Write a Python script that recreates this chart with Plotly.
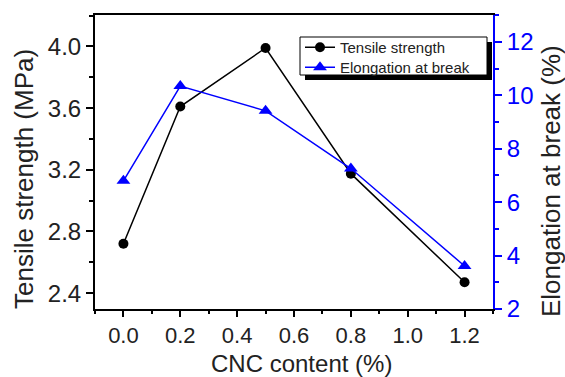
import plotly.graph_objects as go

# CNC loading (%) and the two measured properties
cnc_content = [0.0, 0.2, 0.5, 0.8, 1.2]
tensile_strength = [2.72, 3.61, 3.99, 3.175, 2.47]      # MPa
elongation_at_break = [6.80, 10.35, 9.42, 7.26, 3.61]   # %

FONT = "Liberation Sans, Arial, sans-serif"
BLUE = "#0000ff"
TEXT = "#222222"

W, H = 565, 377
ML, MR, MT, MB = 95, 72, 15, 68


def fx(px):
    """pixel column -> paper x"""
    return (px - ML) / (W - ML - MR)


def fy(py):
    """pixel row -> paper y"""
    return (H - MB - py) / (H - MT - MB)


fig = go.Figure()

fig.add_trace(go.Scatter(
    x=cnc_content, y=tensile_strength, name="Tensile strength",
    mode="lines+markers",
    line=dict(color="black", width=1.5),
    marker=dict(symbol="circle", size=10, color="black"),
    yaxis="y", legend="legend",
))
fig.add_trace(go.Scatter(
    x=cnc_content, y=elongation_at_break, name="Elongation at break",
    mode="lines+markers",
    line=dict(color=BLUE, width=1.5),
    marker=dict(symbol="triangle-up", size=12, color=BLUE),
    yaxis="y2", legend="legend2",
))

# legend frame with a drop shadow
fig.add_shape(type="rect", xref="paper", yref="paper",
              x0=fx(305), x1=fx(492), y0=fy(80), y1=fy(42),
              fillcolor="black", line=dict(width=0), layer="above")
fig.add_shape(type="rect", xref="paper", yref="paper",
              x0=fx(300), x1=fx(487), y0=fy(75), y1=fy(37),
              fillcolor="white", line=dict(color="black", width=1), layer="above")

# axis titles
fig.add_annotation(text="CNC content (%)", xref="paper", yref="paper",
                   x=fx(301), y=fy(363), xanchor="center", yanchor="middle",
                   showarrow=False, borderpad=0,
                   font=dict(size=24, family=FONT, color=TEXT))
fig.add_annotation(text="Tensile strength (MPa)", xref="paper", yref="paper",
                   x=fx(24), y=fy(179), xanchor="center", yanchor="middle",
                   textangle=-90, showarrow=False,
                   font=dict(size=26, family=FONT, color=TEXT))
fig.add_annotation(text="Elongation at break (%)", xref="paper", yref="paper",
                   x=fx(551), y=fy(181), xanchor="center", yanchor="middle",
                   textangle=-90, showarrow=False,
                   font=dict(size=26, family=FONT, color=TEXT))

legend_style = dict(
    xanchor="left", yanchor="top",
    bgcolor="rgba(0,0,0,0)", borderwidth=0,
    font=dict(size=15, family=FONT, color=TEXT),
    itemwidth=30,
)

fig.update_layout(
    width=W, height=H,
    margin=dict(l=ML, r=MR, t=MT, b=MB),
    paper_bgcolor="white", plot_bgcolor="white",
    font=dict(family=FONT, color=TEXT),
    showlegend=True,
    legend=dict(x=fx(300), y=fy(31), **legend_style),
    legend2=dict(x=fx(300), y=fy(51), **legend_style),
    xaxis=dict(
        range=[-0.1, 1.3], tick0=0, dtick=0.2, tickformat=".1f",
        showgrid=False, zeroline=False, automargin=False,
        showline=True, linecolor="black", linewidth=2, mirror=True,
        ticks="outside", ticklen=6, tickwidth=1.5, tickcolor="black",
        minor=dict(dtick=0.1, ticks="outside", ticklen=3, tickcolor="black", tickwidth=1.5),
        tickfont=dict(size=22, family=FONT, color=TEXT),
    ),
    yaxis=dict(
        range=[2.297, 4.204], tick0=2.4, dtick=0.4, tickformat=".1f",
        showgrid=False, zeroline=False, automargin=False,
        showline=True, linecolor="black", linewidth=2,
        ticks="outside", ticklen=7, tickwidth=1.5, tickcolor="black",
        minor=dict(dtick=0.2, ticks="outside", ticklen=4, tickcolor="black", tickwidth=1.5),
        tickfont=dict(size=24, family=FONT, color=TEXT),
    ),
    yaxis2=dict(
        overlaying="y", side="right",
        range=[2, 13.01], tick0=2, dtick=2,
        showgrid=False, zeroline=False, automargin=False,
        showline=True, linecolor=BLUE, linewidth=2,
        ticks="outside", ticklen=7, tickwidth=1.5, tickcolor=BLUE,
        minor=dict(dtick=1, ticks="outside", ticklen=4, tickcolor=BLUE, tickwidth=1.5),
        tickfont=dict(size=24, family=FONT, color=BLUE),
    ),
)

fig.write_html("out.html")
